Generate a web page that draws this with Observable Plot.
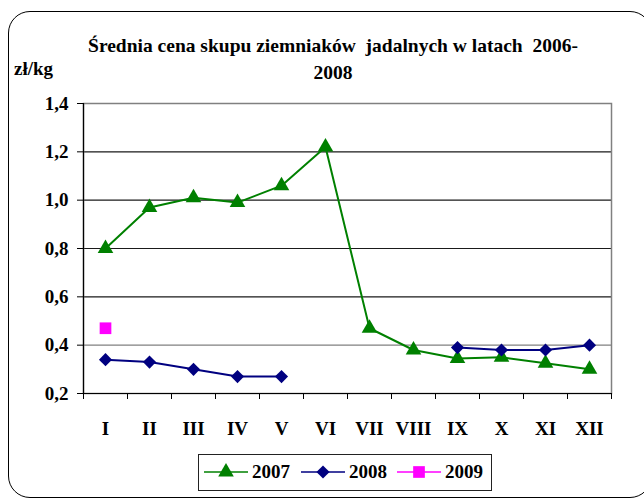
<!DOCTYPE html>
<html><head><meta charset="utf-8">
<script src="https://cdn.jsdelivr.net/npm/d3@7"></script>
<script src="https://cdn.jsdelivr.net/npm/@observablehq/plot@0.6"></script>
<style>
body{margin:0;background:#fff;}
#wrap{position:relative;width:644px;height:500px;overflow:hidden;color:#000;}
.t{font-family:'Liberation Serif','Times New Roman',serif;font-weight:bold;}
#frame{position:absolute;left:8px;top:11px;width:644px;height:487px;border:1.5px solid #000;border-radius:22px;box-sizing:border-box;}
#title{position:absolute;left:0;top:32px;width:666px;text-align:center;font-size:19.5px;line-height:27px;white-space:pre;}
#unit{position:absolute;left:14px;top:55px;font-size:19px;line-height:27px;}
#chart{position:absolute;left:0;top:0;}
#legend{position:absolute;left:198px;top:454px;width:294px;height:37px;border:1.5px solid #222;box-sizing:border-box;background:#fff;}
</style></head><body>
<div id="wrap">
<div id="frame"></div>
<div id="title" class="t">Średnia cena skupu ziemniaków  jadalnych w latach  2006-
2008</div>
<div id="unit" class="t">zł/kg</div>
<div id="chart"></div>
<div id="legend"></div>
</div>
<script>
const months = ["I","II","III","IV","V","VI","VII","VIII","IX","X","XI","XII"];
const series = ["2007","2008","2009"];
const y2007 = [0.80,0.97,1.01,0.99,1.06,1.22,0.47,0.38,0.345,0.35,0.325,0.30];
const y2008 = [0.34,0.33,0.30,0.27,0.27,null,null,null,0.39,0.38,0.38,0.40];
const y2009 = [0.47,null,null,null,null,null,null,null,null,null,null,null];
const yTicks = [0.2,0.4,0.6,0.8,1.0,1.2,1.4];
const colors = {"2007":"#008000","2008":"#000080","2009":"#ff00ff"};
const symbols = {"2007":"triangle","2008":"diamond2","2009":"square"};
const radii = {"2007":5.8,"2008":5.9,"2009":6.6};
const FONT = "'Liberation Serif', 'Times New Roman', serif";

const rows = s => months.map((m,i)=>({i:i+1, m, v:{"2007":y2007,"2008":y2008,"2009":y2009}[s][i], s}));
const d7 = rows("2007"), d8 = rows("2008"), d9 = rows("2009").filter(d=>d.v!=null);

const chart = Plot.plot({
  width:644, height:500,
  marginLeft:83, marginRight:33, marginTop:103, marginBottom:107,
  x:{domain:[0.5,12.5]},
  y:{domain:[0.2,1.4]},
  style:{fontFamily:FONT, fontWeight:"bold", fontSize:"19px", color:"#000", background:"transparent", overflow:"visible"},
  marks:[
    Plot.ruleY(yTicks.filter(t=>t>0.5 && t<1.3), {stroke:"#1a1a1a", strokeWidth:1.2}),
    Plot.ruleY([0.4], {stroke:"#808080", strokeWidth:1.2}),
    Plot.frame({stroke:"#808080", strokeWidth:1.5}),
    Plot.ruleY([0.2], {stroke:"#000", strokeWidth:1.2}),
    Plot.ruleX([0.5], {stroke:"#000", strokeWidth:1.2}),
    Plot.axisY({ticks:yTicks, tickSize:6, tickPadding:9, tickFormat:d=>d.toFixed(1).replace(".",","), label:null, fontSize:19, fontWeight:"bold"}),
    Plot.axisX({ticks:d3.range(0.5,13,1), tickSize:6, tickFormat:()=>"", label:null}),
    Plot.axisX({ticks:d3.range(1,13), tickSize:0, tickPadding:28, tickFormat:i=>months[i-1], label:null, fontSize:19, fontWeight:"bold"}),
    Plot.line(d7, {x:"i", y:"v", stroke:colors["2007"], strokeWidth:2}),
    Plot.line(d8, {x:"i", y:"v", stroke:colors["2008"], strokeWidth:2}),
    Plot.dot(d7, {x:"i", y:"v", symbol:symbols["2007"], r:radii["2007"], fill:colors["2007"]}),
    Plot.dot(d8.filter(d=>d.v!=null), {x:"i", y:"v", symbol:symbols["2008"], r:radii["2008"], fill:colors["2008"]}),
    Plot.dot(d9, {x:"i", y:"v", symbol:symbols["2009"], r:radii["2009"], fill:colors["2009"]})
  ]
});
chart.querySelectorAll("text").forEach(t=>t.style.fontFamily=FONT);
document.getElementById("chart").appendChild(chart);

// legend
const lg = d3.select("#legend").append("svg").attr("width",291).attr("height",34)
  .style("font-family",FONT).style("font-weight","bold").style("font-size","19px");
const symMap = {triangle:d3.symbolTriangle, diamond2:d3.symbolDiamond2, square:d3.symbolSquare};
const offsets = [5,102,198];
series.forEach((s,k)=>{
  const g = lg.append("g").attr("transform",`translate(${offsets[k]},17)`);
  g.append("line").attr("x1",0).attr("x2",44).attr("y1",0).attr("y2",0).attr("stroke",colors[s]).attr("stroke-width",1.6);
  g.append("path").attr("transform","translate(22,0)").attr("d",d3.symbol(symMap[symbols[s]], Math.PI*radii[s]*radii[s])()).attr("fill",colors[s]);
  g.append("text").attr("x",48).attr("y",0).attr("dy","0.34em").style("font-family",FONT).text(s);
});
</script>
</body></html>
